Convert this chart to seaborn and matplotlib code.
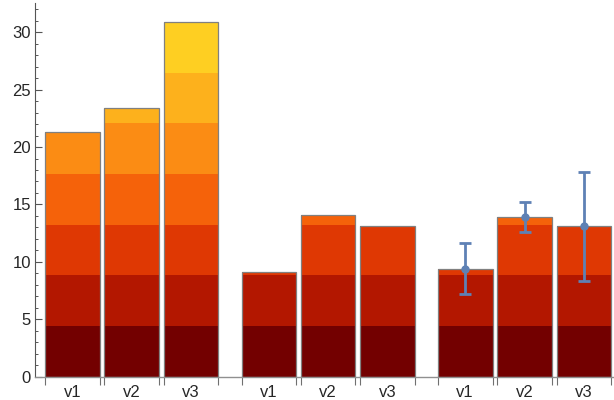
import numpy as np
import matplotlib.pyplot as plt
import seaborn as sns

# -----------------------------
# Data
# -----------------------------
bar_labels = ["v1", "v2", "v3"]
group1 = [21.3, 23.4, 30.9]
group2 = [9.1, 14.1, 13.1]
group3 = [9.4, 13.9, 13.1]
group3_err = [2.2, 1.3, 4.75]

band_colors = ["#730000", "#b31700", "#df3803", "#f5620a",
               "#fb8c14", "#fdb11c", "#fecf22"]

# -----------------------------
# Style
# -----------------------------
sns.set_style("ticks")
plt.rcParams["font.family"] = ["Liberation Sans", "DejaVu Sans"]
palette = sns.color_palette(band_colors)

fig = plt.figure(figsize=(6.14, 4.0), dpi=100)
ax = fig.add_axes([35 / 614, 23.3 / 400, 1 - 35 / 614, (376.7 - 3.5) / 400])

# layout in pixel-like units
bar_w = 54.5
pitch = 59.3
group_pitch = 196.5
x0 = 45

groups = [group1, group2, group3]
n_bands = len(band_colors)
step = max(max(g) for g in groups) / n_bands

edges = []
centers = []
for gi, heights in enumerate(groups):
    for bi, h in enumerate(heights):
        left = x0 + gi * group_pitch + bi * pitch
        for k in range(n_bands):
            lo = k * step
            if lo >= h:
                break
            hi = min(h, (k + 1) * step)
            ax.bar(left, hi - lo, bottom=lo, width=bar_w, align="edge",
                   color=palette[k], linewidth=0, zorder=2)
        ax.bar(left, h, width=bar_w, align="edge", fill=False,
               edgecolor="#808080", linewidth=0.9, zorder=3)
        edges += [left, left + bar_w]
        centers.append(left + bar_w / 2)

# error bars on the third group
c3 = centers[6:9]
ax.errorbar(c3, group3, yerr=group3_err, fmt="o", color="#5e81b5",
            markersize=5, elinewidth=2, capsize=4, capthick=2, zorder=4)

ax.set_xlim(35, 614)
ax.set_ylim(0, 32.5)

ax.set_xticks(edges)
ax.set_xticklabels([])
ax.set_xticks(centers, minor=True)
ax.set_xticklabels(bar_labels * 3, minor=True)
ax.tick_params(axis="x", which="major", direction="out", length=6,
               width=0.8, color="#707070")
ax.tick_params(axis="x", which="minor", length=0, pad=6, labelsize=12)

ax.set_yticks(np.arange(0, 31, 5))
ax.set_yticks(np.arange(0, 33, 1), minor=True)
ax.tick_params(axis="y", which="major", direction="in", length=5,
               width=0.8, color="#555555", labelsize=12, pad=3)
ax.tick_params(axis="y", which="minor", direction="in", length=2.5,
               width=0.7, color="#555555")

for s in ["top", "right"]:
    ax.spines[s].set_visible(False)
ax.spines["left"].set_color("#555555")
ax.spines["left"].set_linewidth(0.8)
ax.spines["bottom"].set_color("#909090")
ax.spines["bottom"].set_linewidth(1.0)

fig.savefig("out.png", dpi=100)
